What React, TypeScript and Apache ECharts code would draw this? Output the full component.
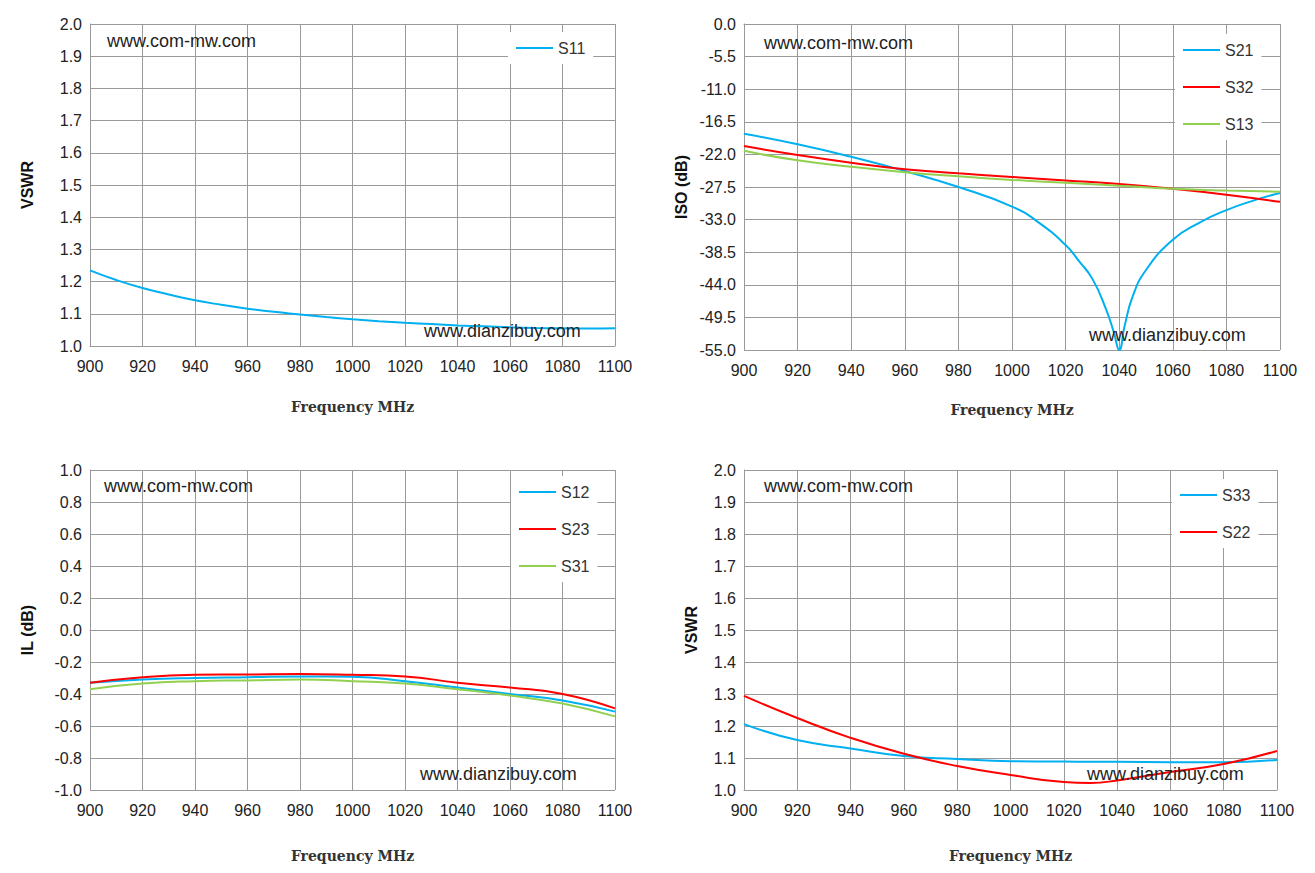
import React, { useEffect, useRef } from "react";
import * as echarts from "echarts";

const freq = [900, 910, 920, 930, 940, 950, 960, 970, 980, 990, 1000, 1010, 1020, 1030, 1040, 1050, 1060, 1070, 1080, 1090, 1100];
const s11 = [1.235, 1.205, 1.18, 1.16, 1.142, 1.128, 1.116, 1.106, 1.098, 1.09, 1.083, 1.077, 1.072, 1.068, 1.064, 1.061, 1.058, 1.056, 1.055, 1.054, 1.055];

const freqIso = [900, 920, 940, 960, 980, 1000, 1010, 1020, 1025, 1030, 1035, 1038, 1040, 1042, 1045, 1050, 1060, 1070, 1080, 1090, 1100];
const s21 = [-18.5, -20.3, -22.4, -24.8, -27.5, -30.8, -33.5, -37.3, -40, -43, -48, -52, -55, -51, -46, -41.5, -36.4, -33.5, -31.4, -29.8, -28.5];
const freqB = [900, 920, 940, 960, 980, 1000, 1020, 1040, 1060, 1080, 1100];
const s32 = [-20.6, -22.1, -23.4, -24.5, -25.2, -25.8, -26.4, -27, -27.8, -28.8, -30];
const s13 = [-21.4, -23.0, -24.1, -25.0, -25.7, -26.3, -26.8, -27.3, -27.8, -28.1, -28.3];

const s12 = [-0.33, -0.31, -0.30, -0.295, -0.29, -0.292, -0.32, -0.36, -0.40, -0.44, -0.51];
const s23 = [-0.33, -0.295, -0.28, -0.278, -0.275, -0.28, -0.29, -0.33, -0.36, -0.40, -0.49];
const s31 = [-0.37, -0.335, -0.32, -0.315, -0.31, -0.32, -0.335, -0.37, -0.41, -0.46, -0.54];

const freqR = [900, 920, 940, 960, 980, 1000, 1020, 1030, 1040, 1060, 1080, 1100];
const s33 = [1.206, 1.156, 1.13, 1.106, 1.097, 1.09, 1.089, 1.088, 1.088, 1.087, 1.087, 1.094];
const s22 = [1.294, 1.225, 1.163, 1.113, 1.075, 1.047, 1.025, 1.022, 1.03, 1.056, 1.081, 1.122];

const BLUE = "#00B0F0", RED = "#FF0000", GREEN = "#92D050";
const FONT = "Liberation Sans";
const pair = (xs: number[], ys: number[]) => xs.map((x, i) => [x, ys[i]]);
const O = 8;

export default function App() {
  const ref = useRef<HTMLDivElement>(null);
  useEffect(() => {
    const chart = echarts.init(ref.current!, null, { renderer: "svg" });
    const grids = [
      { left: 90 - O, top: 24 - O, width: 525, height: 322 },
      { left: 744 - O, top: 24 - O, width: 536, height: 326 },
      { left: 90 - O, top: 470 - O, width: 525, height: 320 },
      { left: 744 - O, top: 470 - O, width: 533, height: 320 },
    ];
    const ys = [
      { min: 1, max: 2, interval: 0.1, name: "VSWR", gap: 55 },
      { min: -55, max: 0, interval: 5.5, name: "ISO (dB)", gap: 55 },
      { min: -1, max: 1, interval: 0.2, name: "IL (dB)", gap: 55 },
      { min: 1, max: 2, interval: 0.1, name: "VSWR", gap: 45 },
    ];
    const xNameGap = [54, 53, 59, 59];
    const line = (name: string, data: number[][], color: string, i: number) => ({
      name, type: "line", xAxisIndex: i, yAxisIndex: i, data, smooth: true, showSymbol: false,
      lineStyle: { color, width: 2 }, itemStyle: { color },
    });
    const legend = (data: string[], left: number, top: number) => ({
      data, orient: "vertical", left: left - O, top: top - O, itemWidth: 37, itemHeight: 2, icon: "rect", itemGap: 21,
      backgroundColor: "#fff", padding: [8, 8, 8, 8],
      textStyle: { fontFamily: FONT, fontSize: 16, color: "#333" },
    });
    const wm = (text: string, x: number, y: number) => ({
      type: "text", left: x - O, top: y - O, z: 100,
      style: { text, fontFamily: FONT, fontSize: 18, fill: "#222" },
    });
    chart.setOption({
      animation: false,
      grid: grids,
      xAxis: grids.map((_, i) => ({
        type: "value", gridIndex: i, min: 900, max: 1100, interval: 20,
        name: "Frequency MHz", nameLocation: "middle", nameGap: xNameGap[i],
        nameTextStyle: { fontFamily: "DejaVu Serif", fontWeight: "bold", fontSize: 14, color: "#333" },
        axisLine: { lineStyle: { color: "#999" } }, axisTick: { show: false },
        axisLabel: { fontFamily: FONT, fontSize: 16, color: "#222", margin: 12, formatter: (v: number) => String(v) },
        splitLine: { show: true, lineStyle: { color: "#9a9a9a" } },
      })),
      yAxis: ys.map((y, i) => ({
        type: "value", gridIndex: i, min: y.min, max: y.max, interval: y.interval,
        name: y.name, nameLocation: "middle", nameGap: y.gap,
        nameTextStyle: { fontFamily: FONT, fontWeight: "bold", fontSize: 16, color: "#111" },
        axisLine: { show: true, lineStyle: { color: "#999" } }, axisTick: { show: false },
        axisLabel: { fontFamily: FONT, fontSize: 16, color: "#222", formatter: (v: number) => v.toFixed(1) },
        splitLine: { show: true, lineStyle: { color: "#9a9a9a" } },
      })),
      legend: [
        legend(["S11"], 508, 32),
        legend(["S21", "S32", "S13"], 1175, 34),
        legend(["S12", "S23", "S31"], 511, 476),
        legend(["S33", "S22"], 1172, 479),
      ],
      graphic: [
        wm("www.com-mw.com", 107, 32), wm("www.dianzibuy.com", 424, 322),
        wm("www.com-mw.com", 764, 34), wm("www.dianzibuy.com", 1089, 326),
        wm("www.com-mw.com", 104, 477), wm("www.dianzibuy.com", 420, 765),
        wm("www.com-mw.com", 764, 477), wm("www.dianzibuy.com", 1087, 765),
      ],
      series: [
        line("S11", pair(freq, s11), BLUE, 0),
        line("S21", pair(freqIso, s21), BLUE, 1),
        line("S32", pair(freqB, s32), RED, 1),
        line("S13", pair(freqB, s13), GREEN, 1),
        line("S12", pair(freqB, s12), BLUE, 2),
        line("S23", pair(freqB, s23), RED, 2),
        line("S31", pair(freqB, s31), GREEN, 2),
        line("S33", pair(freqR, s33), BLUE, 3),
        line("S22", pair(freqR, s22), RED, 3),
      ],
    });
    return () => chart.dispose();
  }, []);
  return <div ref={ref} style={{ width: 1299, height: 857 }} />;
}
